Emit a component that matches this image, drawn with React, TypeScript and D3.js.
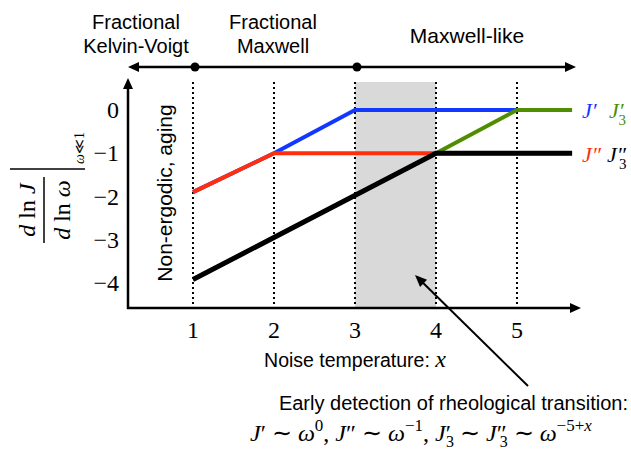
import React from "react";
import * as d3 from "d3";

// Piecewise-linear exponents of the low-frequency compliance vs noise temperature x
const jPrimeX = [1, 2, 3, 5];
const jPrimeY = [-1.9, -1, 0, 0];
const jDoubleX = [1, 2, 5.68];
const jDoubleY = [-1.9, -1, -1];
const j3PrimeX = [1, 4, 5, 5.68];
const j3PrimeY = [-3.92, -1, 0, 0];
const j3DoubleX = [1, 4, 5.68];
const j3DoubleY = [-3.92, -1, -1];

const xTicks = [1, 2, 3, 4, 5];
const yTicks = [0, -1, -2, -3, -4];
const yTickLabels = ["0", "\u22121", "\u22122", "\u22123", "\u22124"];
const bandRange = [3, 4];
const regimeDots = [1, 3];

const W = 631;
const H = 450;
const SANS = "'Liberation Sans', Arial, Helvetica, sans-serif";
const SERIF = "'Liberation Serif', 'Times New Roman', serif";

const x = d3.scaleLinear().domain([1, 5]).range([193, 517]);
const y = d3.scaleLinear().domain([0, -4]).range([110, 283]);

const plotTop = 82;
const axisY = 308;
const axisX = 128;

const line = d3
  .line<[number, number]>()
  .x((d) => x(d[0]))
  .y((d) => y(d[1]));

const zip = (a: number[], b: number[]) => a.map((v, i) => [v, b[i]] as [number, number]);

const series = [
  { xs: jPrimeX, ys: jPrimeY, color: "#1238ff", width: 4 },
  { xs: jDoubleX, ys: jDoubleY, color: "#ff2e0c", width: 4 },
  { xs: j3PrimeX, ys: j3PrimeY, color: "#4e8e00", width: 4 },
  { xs: j3DoubleX, ys: j3DoubleY, color: "#000000", width: 5 },
];

function Arrow({ x1, y1, x2, y2, w = 2.5, head = 11, half = 5 }: any) {
  const ang = Math.atan2(y2 - y1, x2 - x1);
  const bx = x2 - head * Math.cos(ang);
  const by = y2 - head * Math.sin(ang);
  const px = -Math.sin(ang) * half;
  const py = Math.cos(ang) * half;
  return (
    <g>
      <line x1={x1} y1={y1} x2={bx + 2 * Math.cos(ang)} y2={by + 2 * Math.sin(ang)} stroke="#000" strokeWidth={w} />
      <path d={`M${x2},${y2}L${bx + px},${by + py}L${bx - px},${by - py}Z`} fill="#000" />
    </g>
  );
}

export default function App() {
  return (
    <svg
      width={W}
      height={H}
      viewBox={`0 0 ${W} ${H}`}
      style={{ position: "absolute", left: 0, top: 0, background: "#fff" }}
    >
      {/* regime labels */}
      <g fontFamily={SANS} fontSize={20} textAnchor="middle" fill="#000">
        <text x={136} y={29}>Fractional</text>
        <text x={136} y={53}>Kelvin-Voigt</text>
        <text x={273} y={29}>Fractional</text>
        <text x={273} y={53}>Maxwell</text>
        <text x={467} y={43} fontSize={21}>Maxwell-like</text>
      </g>

      {/* regime arrow */}
      <Arrow x1={300} y1={67} x2={128} y2={67} />
      <Arrow x1={300} y1={67} x2={576} y2={67} />
      {regimeDots.map((d) => (
        <circle key={d} cx={x(d) + 2} cy={67} r={4.5} fill="#000" />
      ))}

      {/* shaded transition window */}
      <rect
        x={x(bandRange[0])}
        y={plotTop}
        width={x(bandRange[1]) - x(bandRange[0])}
        height={axisY - plotTop}
        fill="#d9d9d9"
      />

      {/* dotted guides */}
      {xTicks.map((t) => (
        <line
          key={t}
          x1={x(t)}
          x2={x(t)}
          y1={plotTop}
          y2={axisY + 3}
          stroke="#000"
          strokeWidth={2}
          strokeDasharray="2 3"
        />
      ))}

      {/* axes */}
      <Arrow x1={axisX} y1={axisY + 1} x2={axisX} y2={78} />
      <Arrow x1={axisX - 1} y1={axisY} x2={581} y2={axisY} />

      {/* exponent curves */}
      {series.map((s, i) => (
        <path
          key={i}
          d={line(zip(s.xs, s.ys)) || ""}
          fill="none"
          stroke={s.color}
          strokeWidth={s.width}
          strokeLinejoin="miter"
        />
      ))}

      {/* y tick labels */}
      <g fontFamily={SERIF} fontSize={24} textAnchor="end">
        {yTicks.map((t, i) => (
          <text key={t} x={119} y={y(t)} dominantBaseline="central">
            {yTickLabels[i]}
          </text>
        ))}
      </g>

      {/* x tick labels */}
      <g fontFamily={SERIF} fontSize={24} textAnchor="middle">
        {xTicks.map((t) => (
          <text key={t} x={x(t)} y={338}>
            {t}
          </text>
        ))}
      </g>

      {/* x axis title */}
      <text x={355} y={367} textAnchor="middle" fontFamily={SANS} fontSize={19.5}>
        Noise temperature:{" "}
        <tspan fontFamily={SERIF} fontStyle="italic" fontSize={24}>
          x
        </tspan>
      </text>

      {/* y axis title */}
      <g transform="translate(44,210) rotate(-90)" fontFamily={SERIF} fontSize={24}>
        <text x={0} y={-9} textAnchor="middle">
          <tspan fontStyle="italic">d</tspan> ln <tspan fontStyle="italic">J</tspan>
        </text>
        <line x1={-33} x2={33} y1={0} y2={0} stroke="#000" strokeWidth={1.5} />
        <text x={0} y={26} textAnchor="middle">
          <tspan fontStyle="italic">d</tspan> ln <tspan fontStyle="italic">ω</tspan>
        </text>
        <line x1={41} x2={41} y1={-34} y2={41} stroke="#000" strokeWidth={1.5} />
        <text x={46} y={40} fontSize={14}>
          <tspan fontStyle="italic">ω</tspan>≪1
        </text>
      </g>

      {/* non-ergodic note */}
      <text
        transform="translate(172,193) rotate(-90)"
        textAnchor="middle"
        fontFamily={SANS}
        fontSize={21}
      >
        Non-ergodic, aging
      </text>

      {/* curve labels */}
      <g fontFamily={SERIF} fontSize={22} fontStyle="italic">
        <text x={582} y={118} fill="#1238ff">J′</text>
        <text x={609} y={118} fill="#4e8e00">
          J′<tspan dx={-5} dy={7} fontSize={15} fontStyle="normal">3</tspan>
        </text>
        <text x={582} y={162} fill="#ff2e0c">J″</text>
        <text x={607} y={162} fill="#000">
          J″<tspan dx={-7} dy={7} fontSize={15} fontStyle="normal">3</tspan>
        </text>
      </g>

      {/* annotation */}
      <Arrow x1={528} y1={386} x2={415} y2={275} w={2} head={12} half={5} />
      <text x={628} y={410} textAnchor="end" fontFamily={SANS} fontSize={20}>
        Early detection of rheological transition:
      </text>
      <text x={250} y={441} fontFamily={SERIF} fontSize={24}>
        <tspan fontStyle="italic">J</tspan>′ ∼ <tspan fontStyle="italic">ω</tspan>
        <tspan dy={-10} fontSize={17}>0</tspan>
        <tspan dy={10}>, </tspan>
        <tspan fontStyle="italic">J</tspan>″ ∼ <tspan fontStyle="italic">ω</tspan>
        <tspan dy={-10} fontSize={17}>−1</tspan>
        <tspan dy={10}>, </tspan>
        <tspan fontStyle="italic">J</tspan>′<tspan dx={-5} dy={6} fontSize={16}>3</tspan>
        <tspan dy={-6}> ∼ </tspan>
        <tspan fontStyle="italic">J</tspan>″<tspan dx={-7} dy={6} fontSize={16}>3</tspan>
        <tspan dy={-6}> ∼ </tspan>
        <tspan fontStyle="italic">ω</tspan>
        <tspan dy={-10} fontSize={17}>−5+</tspan>
        <tspan fontSize={17} fontStyle="italic">x</tspan>
      </text>
    </svg>
  );
}
